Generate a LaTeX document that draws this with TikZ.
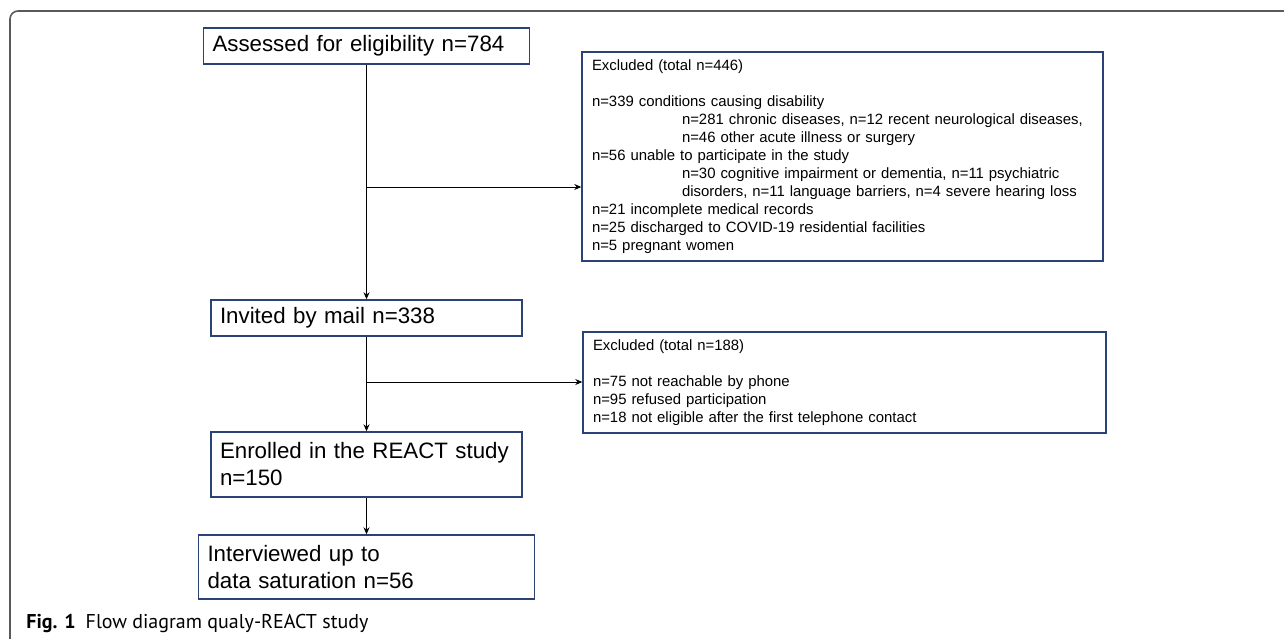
\documentclass[tikz,border=0pt]{standalone}
\usepackage{fontspec}
\setmainfont{Liberation Sans}
\newfontfamily\capfont{PT Sans}
\usetikzlibrary{arrows.meta}
\definecolor{boxblue}{HTML}{2B4279}
\definecolor{framegray}{HTML}{5A5A5A}

\begin{document}
\begin{tikzpicture}[x=0.5pt, y=-0.5pt,
  >={Stealth[length=3.5pt,width=3pt]},
  stage/.style={draw=boxblue, line width=0.7pt, inner xsep=4.5pt, inner ysep=0pt,
    align=left, font=\fontsize{11.15}{13.5}\selectfont},
  excl/.style={draw=boxblue, line width=0.7pt, inner xsep=5pt, inner ysep=0pt,
    align=left, font=\fontsize{7.45}{9}\selectfont},
  link/.style={->, line width=0.5pt}]

  \newcommand\Ind{\hspace*{45pt}}

  \useasboundingbox (0,0) rectangle (1284,638);

  % figure frame
  \draw[framegray, line width=0.8pt, rounded corners=4pt] (1300,11) -- (10,11) -- (10,650);

  % main stages
  \node[stage, text width=154pt, minimum height=18pt] (assessed) at (366.5,46)
    {Assessed for eligibility n=784};
  \node[stage, text width=146.5pt, minimum height=18pt] (invited) at (366.5,318)
    {Invited by mail n=338};
  \node[stage, text width=146.5pt, minimum height=32.5pt] (enrolled) at (366.5,464.5)
    {Enrolled in the REACT study\\ n=150};
  \node[stage, text width=159pt, minimum height=32pt] (interviewed) at (366.5,567)
    {Interviewed up to\\ data saturation n=56};

  % exclusions
  \node[excl, text width=250.5pt, minimum height=104.5pt] (excl1) at (842.5,156.5)
    {Excluded (total n=446)\\[9pt]
     n=339 conditions causing disability\\
     \Ind n=281 chronic diseases, n=12 recent neurological diseases,\\
     \Ind n=46 other acute illness or surgery\\
     n=56 unable to participate in the study\\
     \Ind n=30 cognitive impairment or dementia, n=11 psychiatric\\
     \Ind disorders, n=11 language barriers, n=4 severe hearing loss\\
     n=21 incomplete medical records\\
     n=25 discharged to COVID-19 residential facilities\\
     n=5 pregnant women};
  \node[excl, text width=251.5pt, minimum height=50.5pt] (excl2) at (844.5,382.5)
    {Excluded (total n=188)\\[9pt]
     n=75 not reachable by phone\\
     n=95 refused participation\\
     n=18 not eligible after the first telephone contact};

  \coordinate (split1) at (assessed.south |- 0,187);
  \coordinate (split2) at (invited.south |- 0,382);

  \draw[link] (assessed) -- (invited); % assessed->invited
  \draw[link] (split1) -- (split1 -| excl1.west); % ->excl1
  \draw[link] (invited) -- (enrolled); % invited->enrolled
  \draw[link] (split2) -- (split2 -| excl2.west); % ->excl2
  \draw[link] (enrolled) -- (interviewed); % enrolled->interviewed

  \node[anchor=base west, inner sep=0pt, font=\capfont\fontsize{10}{12}\selectfont]
    (caption) at (26,628) {\textbf{Fig. 1}\hspace{5pt}Flow diagram qualy-REACT study};

\end{tikzpicture}
\end{document}
